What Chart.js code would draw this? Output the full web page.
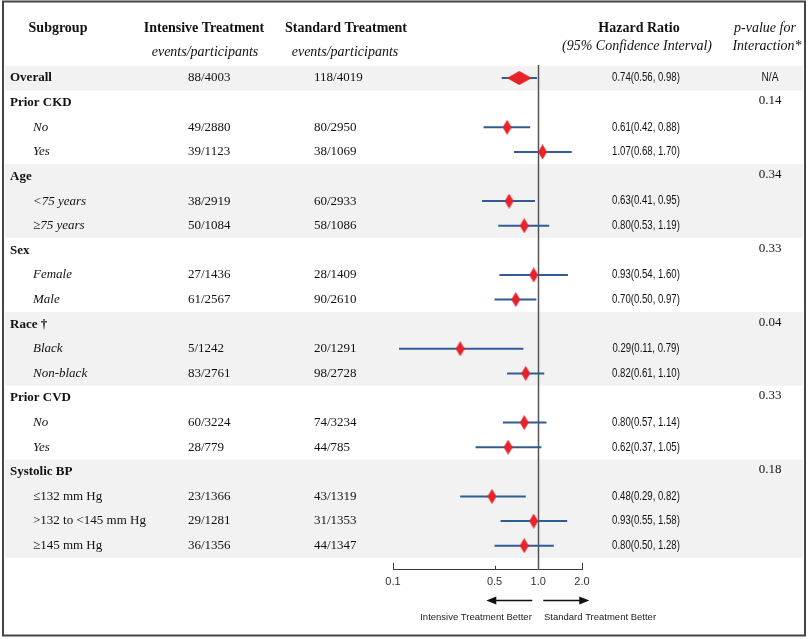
<!DOCTYPE html>
<html>
<head>
<meta charset="utf-8">
<script src="https://cdn.jsdelivr.net/npm/chart.js@4.4.0/dist/chart.umd.min.js"></script>
<style>
  html, body { margin: 0; padding: 0; background: #fff; }
</style>
</head>
<body>
<canvas id="forest" width="809" height="639"></canvas>
<script>
// rows, top to bottom
const rowLabels = [
    'Overall',
    'Prior CKD', 'No', 'Yes',
    'Age', '<75 years', '\u226575 years',
    'Sex', 'Female', 'Male',
    'Race \u2020', 'Black', 'Non-black',
    'Prior CVD', 'No', 'Yes',
    'Systolic BP', '\u2264132 mm Hg', '>132 to <145 mm Hg', '\u2265145 mm Hg',
];
const intensive = [
    '88/4003',
    '', '49/2880', '39/1123',
    '', '38/2919', '50/1084',
    '', '27/1436', '61/2567',
    '', '5/1242', '83/2761',
    '', '60/3224', '28/779',
    '', '23/1366', '29/1281', '36/1356',
];
const standard = [
    '118/4019',
    '', '80/2950', '38/1069',
    '', '60/2933', '58/1086',
    '', '28/1409', '90/2610',
    '', '20/1291', '98/2728',
    '', '74/3234', '44/785',
    '', '43/1319', '31/1353', '44/1347',
];
const hazard = [
    0.74,
    null, 0.61, 1.07,
    null, 0.63, 0.80,
    null, 0.93, 0.70,
    null, 0.29, 0.82,
    null, 0.80, 0.62,
    null, 0.48, 0.93, 0.80,
];
const ciLow = [
    0.56,
    null, 0.42, 0.68,
    null, 0.41, 0.53,
    null, 0.54, 0.50,
    null, 0.11, 0.61,
    null, 0.57, 0.37,
    null, 0.29, 0.55, 0.50,
];
const ciHigh = [
    0.98,
    null, 0.88, 1.70,
    null, 0.95, 1.19,
    null, 1.60, 0.97,
    null, 0.79, 1.10,
    null, 1.14, 1.05,
    null, 0.82, 1.58, 1.28,
];
const pInteraction = [
    'N/A',
    '0.14', '', '',
    '0.34', '', '',
    '0.33', '', '',
    '0.04', '', '',
    '0.33', '', '',
    '0.18', '', '', '',
];
const shadedRows = [[0, 0], [4, 6], [10, 12], [16, 19]];
const tickValues = [0.1, 0.5, 1.0, 2.0];
const tickLabels = ['0.1', '0.5', '1.0', '2.0'];

const serif = '"Liberation Serif", "Times New Roman", serif';
const sans = '"Liberation Sans", Arial, sans-serif';
const textColor = '#111';

function makeDiamond(w, h) {
    const c = document.createElement('canvas');
    c.width = w;
    c.height = h;
    const g = c.getContext('2d');
    g.fillStyle = '#e8222a';
    g.beginPath();
    g.moveTo(w / 2, 0);
    g.lineTo(w, h / 2);
    g.lineTo(w / 2, h);
    g.lineTo(0, h / 2);
    g.closePath();
    g.fill();
    return c;
}
const tallDiamond = makeDiamond(9, 15);
const wideDiamond = makeDiamond(25, 14);

const isGroupRow = (i) => i === 0 || hazard[i] === null;

// narrow-looking text: squeeze a regular face horizontally
function squeezeText(ctx, txt, x, y, factor) {
    const w = ctx.measureText(txt).width;
    ctx.fillText(txt, x, y, w * factor);
}

// one short line per interval, plus the estimates
const ciDatasets = [];
hazard.forEach((h, i) => {
    if (h === null) return;
    ciDatasets.push({
        type: 'line',
        data: [{ x: ciLow[i], y: i }, { x: ciHigh[i], y: i }],
        borderColor: '#2f5d93',
        borderWidth: 2,
        pointRadius: 0,
        order: 1,
    });
});
const estimates = [];
hazard.forEach((h, i) => {
    if (h !== null) estimates.push({ x: h, y: i });
});

const decor = {
    id: 'decor',
    beforeDraw(chart) {
        const { ctx } = chart;
        const y = chart.scales.y;
        ctx.save();
        ctx.fillStyle = '#f2f2f2';
        shadedRows.forEach(([a, b]) => {
            const top = y.getPixelForValue(a - 0.5);
            const bottom = y.getPixelForValue(b + 0.5);
            ctx.fillRect(5, top, 798, bottom - top);
        });
        ctx.strokeStyle = '#454545';
        ctx.lineWidth = 2;
        ctx.strokeRect(3, 1.5, 802, 634);
        ctx.restore();
    },
    beforeDatasetsDraw(chart) {
        const { ctx, chartArea } = chart;
        const x = chart.scales.x;
        const px = Math.round(x.getPixelForValue(1)) + 0.5;
        ctx.save();
        ctx.strokeStyle = '#555';
        ctx.lineWidth = 1.5;
        ctx.beginPath();
        ctx.moveTo(px, chartArea.top);
        ctx.lineTo(px, chartArea.bottom);
        ctx.stroke();
        ctx.restore();
    },
    afterDraw(chart) {
        const { ctx, chartArea } = chart;
        const x = chart.scales.x;
        const y = chart.scales.y;
        ctx.save();
        ctx.fillStyle = textColor;
        ctx.textBaseline = 'middle';

        // headers
        ctx.textAlign = 'center';
        ctx.font = 'bold 14px ' + serif;
        ctx.fillText('Subgroup', 58, 28);
        ctx.fillText('Intensive Treatment', 204, 28);
        ctx.fillText('Standard Treatment', 346, 28);
        ctx.fillText('Hazard Ratio', 639, 28);
        ctx.font = 'italic 14px ' + serif;
        ctx.fillText('events/participants', 205, 52);
        ctx.fillText('events/participants', 345, 52);
        ctx.fillText('(95% Confidence Interval)', 637, 46);
        ctx.fillText('p-value for', 765, 28);
        ctx.fillText('Interaction*', 767, 46);

        // table rows
        let romanSubs = false;
        rowLabels.forEach((label, i) => {
            const py = y.getPixelForValue(i);
            ctx.textAlign = 'left';
            if (isGroupRow(i)) {
                romanSubs = label === 'Systolic BP';
                ctx.font = 'bold 13px ' + serif;
                ctx.fillText(label, 10, py);
            } else {
                ctx.font = (romanSubs ? '' : 'italic ') + '13px ' + serif;
                ctx.fillText(label, 33, py);
            }
            ctx.font = '13px ' + serif;
            if (intensive[i]) ctx.fillText(intensive[i], 188, py);
            if (standard[i]) ctx.fillText(standard[i], 314, py);
            ctx.textAlign = 'center';
            if (hazard[i] !== null) {
                ctx.font = '12px ' + sans;
                const txt = hazard[i].toFixed(2) + '(' + ciLow[i].toFixed(2) + ', ' + ciHigh[i].toFixed(2) + ')';
                squeezeText(ctx, txt, 646, py, 0.8);
            }
            if (pInteraction[i]) {
                if (pInteraction[i] === 'N/A') {
                    ctx.font = '12px ' + sans;
                    squeezeText(ctx, pInteraction[i], 770, py, 0.85);
                } else {
                    ctx.font = '13px ' + serif;
                    ctx.fillText(pInteraction[i], 770, py - 2);
                }
            }
        });

        // upward tick marks on the axis
        ctx.strokeStyle = '#3a3a3a';
        ctx.lineWidth = 1;
        tickValues.forEach((v) => {
            if (v === 1) return;
            const px = Math.round(x.getPixelForValue(v)) + 0.5;
            ctx.beginPath();
            ctx.moveTo(px, chartArea.bottom);
            ctx.lineTo(px, chartArea.bottom - (v === 0.5 ? 4 : 7));
            ctx.stroke();
        });

        // direction arrows
        const ay = 600.5;
        const one = x.getPixelForValue(1);
        ctx.fillStyle = '#111';
        ctx.strokeStyle = '#111';
        ctx.lineWidth = 1.5;
        ctx.beginPath();
        ctx.moveTo(one - 6, ay);
        ctx.lineTo(one - 46, ay);
        ctx.moveTo(one + 5, ay);
        ctx.lineTo(one + 45, ay);
        ctx.stroke();
        ctx.beginPath();
        ctx.moveTo(one - 52, ay);
        ctx.lineTo(one - 42, ay - 4);
        ctx.lineTo(one - 42, ay + 4);
        ctx.closePath();
        ctx.moveTo(one + 51, ay);
        ctx.lineTo(one + 41, ay - 4);
        ctx.lineTo(one + 41, ay + 4);
        ctx.closePath();
        ctx.fill();

        ctx.fillStyle = '#222';
        ctx.font = '9.5px ' + sans;
        ctx.textAlign = 'center';
        ctx.fillText('Intensive Treatment Better', 476, 617);
        ctx.fillText('Standard Treatment Better', 600, 617);
        ctx.restore();
    },
};

const ctx = document.getElementById('forest').getContext('2d');
const forestChart = new Chart(ctx, {
    data: {
        datasets: [
            {
                type: 'scatter',
                data: estimates,
                pointStyle: (c) => (c.dataIndex === 0 ? wideDiamond : tallDiamond),
                order: 0,
                clip: false,
            },
            ...ciDatasets,
        ],
    },
    options: {
        responsive: false,
        animation: false,
        devicePixelRatio: 1,
        layout: {
            padding: { left: 393, right: 227, top: 65, bottom: 44 },
        },
        plugins: {
            legend: { display: false },
            tooltip: { enabled: false },
        },
        scales: {
            x: {
                type: 'logarithmic',
                min: 0.1,
                max: 2.0,
                afterBuildTicks: (scale) => {
                    scale.ticks = tickValues.map((v) => ({ value: v }));
                },
                ticks: {
                    autoSkip: false,
                    maxRotation: 0,
                    padding: 6,
                    color: '#333',
                    font: { size: 11, family: sans },
                    callback: (value, index) => tickLabels[index],
                },
                grid: { display: false, drawTicks: false },
                border: { display: true, color: '#3a3a3a', width: 1 },
            },
            y: {
                type: 'linear',
                min: -0.53,
                max: 19.98,
                reverse: true,
                display: false,
            },
        },
    },
    plugins: [decor],
});
</script>
</body>
</html>
